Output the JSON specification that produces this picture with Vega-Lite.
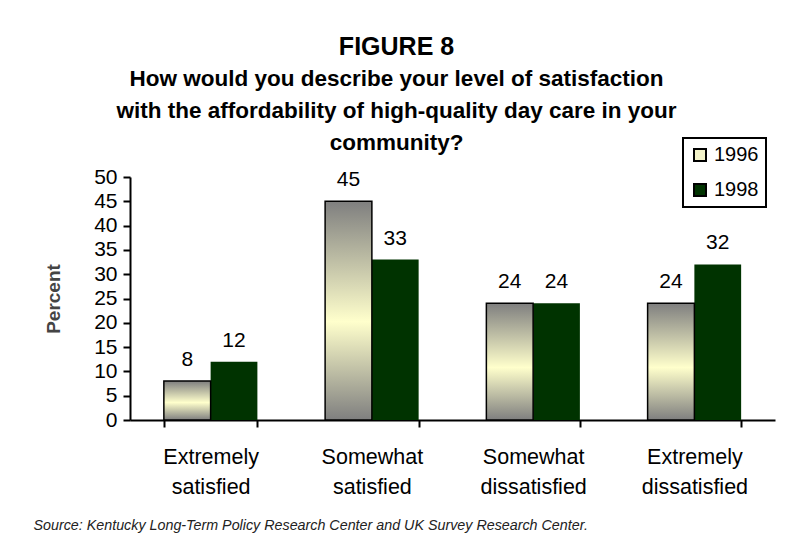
{
  "$schema": "https://vega.github.io/schema/vega-lite/v6.json",
  "width": 645,
  "height": 243,
  "autosize": "none",
  "padding": {"left": 130, "top": 177, "right": 14, "bottom": 128},
  "background": "white",
  "title": {
    "text": "FIGURE 8",
    "subtitle": ["How would you describe your level of satisfaction", "with the affordability of high-quality day care in your", "community?"],
    "anchor": "middle",
    "frame": "group",
    "dx": -56,
    "font": "Liberation Sans",
    "fontSize": 25,
    "fontWeight": "bold",
    "color": "black",
    "subtitleFont": "Liberation Sans",
    "subtitleFontSize": 22.5,
    "subtitleFontWeight": "bold",
    "subtitleColor": "black",
    "subtitleLineHeight": 32,
    "subtitlePadding": 8,
    "offset": -17
  },
  "data": {
    "values": [
      {"category": "Extremely satisfied", "year": "1996", "value": 8},
      {"category": "Extremely satisfied", "year": "1998", "value": 12},
      {"category": "Somewhat satisfied", "year": "1996", "value": 45},
      {"category": "Somewhat satisfied", "year": "1998", "value": 33},
      {"category": "Somewhat dissatisfied", "year": "1996", "value": 24},
      {"category": "Somewhat dissatisfied", "year": "1998", "value": 24},
      {"category": "Extremely dissatisfied", "year": "1996", "value": 24},
      {"category": "Extremely dissatisfied", "year": "1998", "value": 32}
    ]
  },
  "encoding": {
    "x": {
      "field": "category",
      "type": "nominal",
      "sort": ["Extremely satisfied", "Somewhat satisfied", "Somewhat dissatisfied", "Extremely dissatisfied"],
      "scale": {"paddingInner": 0.42, "paddingOuter": 0.21},
      "axis": {
        "labelAngle": 0,
        "labelExpr": "split(datum.label, ' ')",
        "labelLineHeight": 30,
        "labelFontSize": 21.5,
        "labelFont": "Liberation Sans",
        "labelColor": "black",
        "labelPadding": 19,
        "labelBaseline": "top",
        "tickBand": "extent",
        "tickSize": 7,
        "tickWidth": 2,
        "tickColor": "black",
        "domainColor": "black",
        "domainWidth": 2,
        "title": "Source: Kentucky Long-Term Policy Research Center and UK Survey Research Center.",
        "titleFont": "Liberation Sans Narrow, Liberation Sans",
        "titleFontStyle": "italic",
        "titleFontWeight": "normal",
        "titleFontSize": 14.3,
        "titleColor": "#222222",
        "titleAnchor": "start",
        "titleAlign": "left",
        "titleBaseline": "alphabetic",
        "titleX": -97,
        "titleY": 109
      }
    },
    "xOffset": {"field": "year", "type": "nominal", "scale": {"domain": ["1996", "1998"]}},
    "y": {
      "field": "value",
      "type": "quantitative",
      "scale": {"domain": [0, 50], "nice": false},
      "axis": {
        "values": [0, 5, 10, 15, 20, 25, 30, 35, 40, 45, 50],
        "grid": false,
        "labelFontSize": 21,
        "labelFont": "Liberation Sans",
        "labelColor": "black",
        "labelPadding": 6,
        "tickSize": 7,
        "tickWidth": 2,
        "tickColor": "black",
        "domainColor": "black",
        "domainWidth": 2,
        "title": "Percent",
        "titleFont": "Liberation Sans",
        "titleFontSize": 19,
        "titleFontWeight": "bold",
        "titleColor": "#444444",
        "titlePadding": 30
      }
    }
  },
  "layer": [
    {
      "mark": {"type": "bar"},
      "encoding": {
        "color": {
          "field": "year",
          "type": "nominal",
          "scale": {"domain": ["1996", "1998"], "range": ["#F2F2C8", "#003300"]},
          "legend": {
            "title": null,
            "orient": "none",
            "legendX": 553,
            "legendY": -39,
            "symbolType": "square",
            "symbolSize": 144,
            "symbolStrokeColor": "black",
            "symbolStrokeWidth": 2,
            "symbolOpacity": 1,
            "labelFontSize": 20,
            "labelFont": "Liberation Sans",
            "labelColor": "black",
            "labelOffset": 4,
            "rowPadding": 15,
            "padding": 7,
            "strokeColor": "black",
            "fillColor": "white"
          }
        }
      }
    },
    {
      "transform": [{"filter": "datum.year == '1996'"}],
      "mark": {
        "type": "bar",
        "stroke": "black",
        "strokeWidth": 1.5,
        "fill": {
          "gradient": "linear",
          "x1": 0, "y1": 0, "x2": 0, "y2": 1,
          "stops": [
            {"offset": 0, "color": "#7F7F7F"},
            {"offset": 0.55, "color": "#FFFFCC"},
            {"offset": 1, "color": "#7F7F7F"}
          ]
        }
      }
    },
    {
      "mark": {"type": "text", "baseline": "alphabetic", "dy": -15, "fontSize": 21, "font": "Liberation Sans", "color": "black"},
      "encoding": {"text": {"field": "value", "type": "quantitative"}}
    }
  ],
  "config": {"view": {"stroke": null}, "legend": {"strokeWidth": 2}}
}
